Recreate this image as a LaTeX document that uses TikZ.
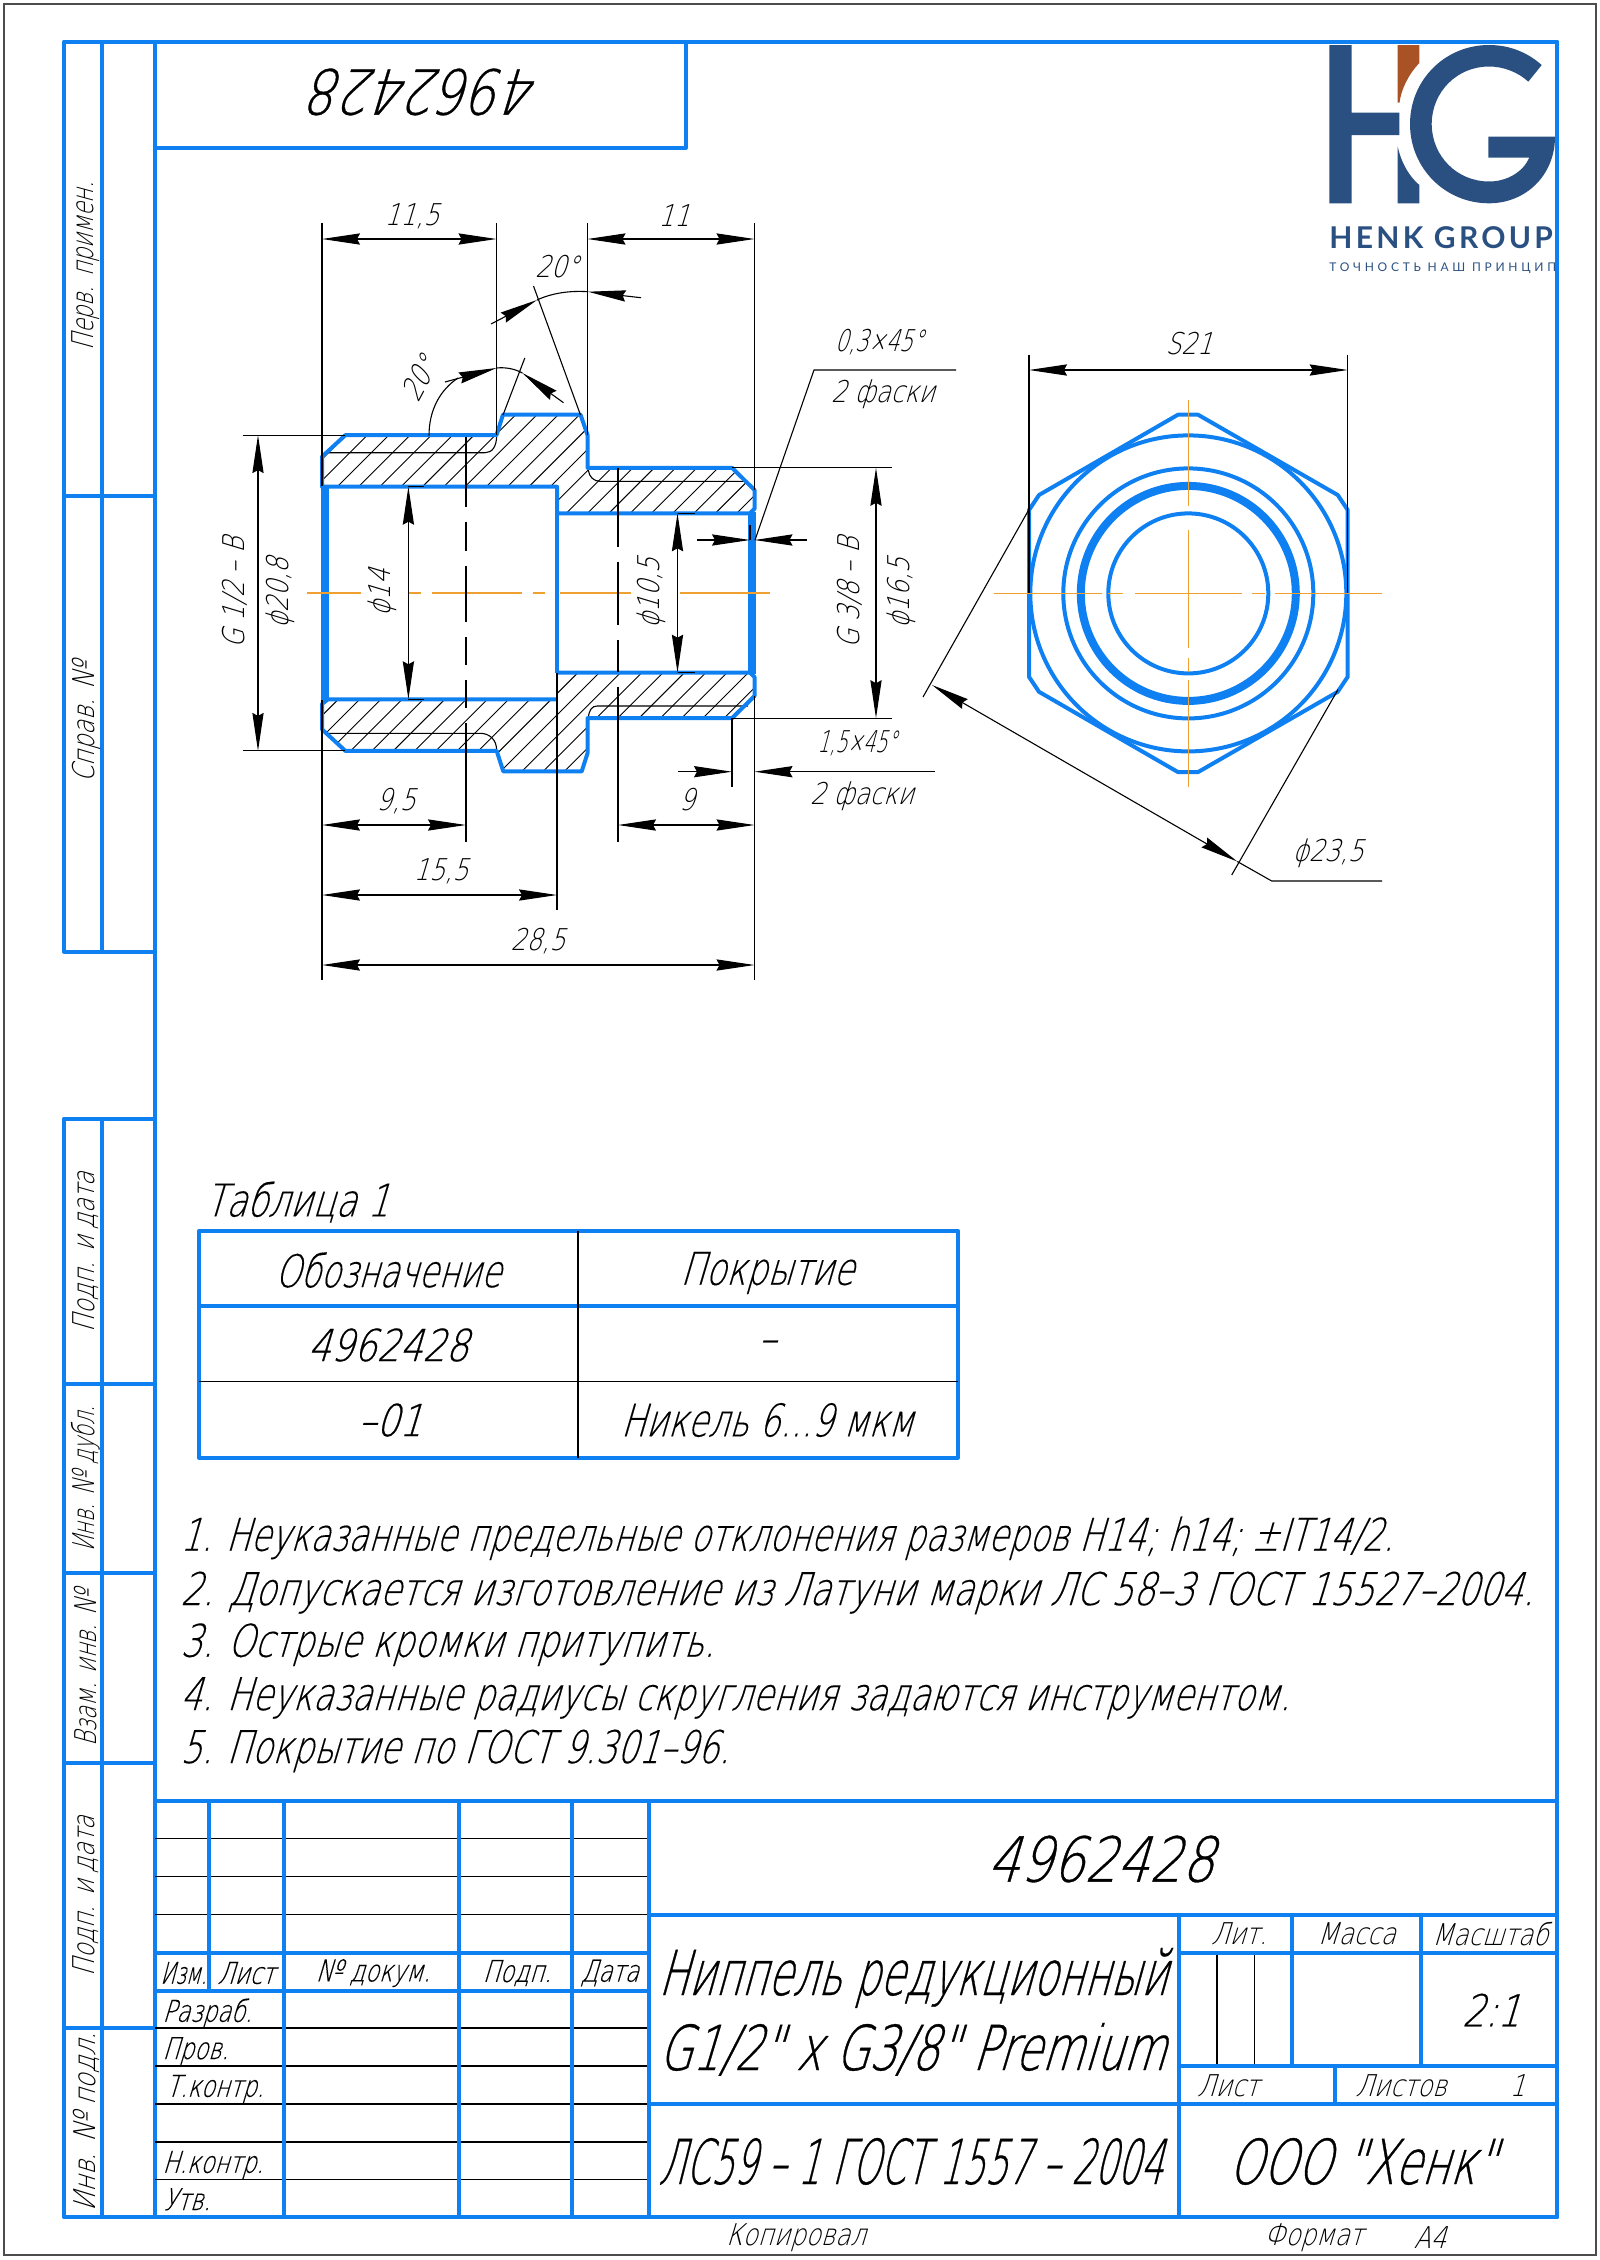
\documentclass[tikz,border=0pt]{standalone}
\usepackage{fontspec}
\usetikzlibrary{arrows.meta}
\newfontfamily\gost[FakeSlant=.3,FakeStretch=.7]{DejaVu Sans ExtraLight}
\newfontfamily\gostw[FakeSlant=.3,FakeStretch=.76,FakeBold=.25]{DejaVu Sans ExtraLight}
\newfontfamily\gostd[FakeSlant=.3,FakeStretch=.82]{DejaVu Sans ExtraLight}
\newfontfamily\gostb[FakeSlant=.3,FakeStretch=.7,FakeBold=.5]{DejaVu Sans ExtraLight}
\newfontfamily\gostc[FakeSlant=.3,FakeStretch=.82,FakeBold=.5]{DejaVu Sans ExtraLight}
\newfontfamily\logofont[LetterSpace=11]{Lato}
\newfontfamily\logosmall[LetterSpace=31]{Lato}
\definecolor{lineblue}{HTML}{0F80F2}
\definecolor{axisorange}{HTML}{F0A030}
\definecolor{logoblue}{HTML}{2A5082}
\definecolor{logobrown}{HTML}{A85226}
\tikzset{
  outline/.style={draw=lineblue,line width=2pt,line join=round},
  wall/.style={draw=lineblue,line width=3.6pt},
  thin/.style={draw=black,line width=.55pt},
  hatch/.style={draw=black,line width=.45pt},
  axis/.style={draw=axisorange,line width=.6pt},
  dimline/.style={draw=black,line width=.55pt,
    >={Stealth[length=19pt,width=5.6pt,inset=1.5pt]}},
  txtS/.style={inner sep=0pt,font=\gostd\fontsize{15pt}{15pt}\selectfont},
  txtN/.style={inner sep=0pt,font=\gost\fontsize{15pt}{15pt}\selectfont},
  txtT/.style={inner sep=0pt,font=\gostw\fontsize{15pt}{15pt}\selectfont},
  txtM/.style={inner sep=0pt,font=\gostw\fontsize{22.5pt}{22.5pt}\selectfont},
  txtD/.style={inner sep=0pt,font=\gostc\fontsize{22pt}{22pt}\selectfont},
  txtL/.style={inner sep=0pt,font=\gostb\fontsize{31pt}{31pt}\selectfont},
  txtK/.style={inner sep=0pt,font=\gostc\fontsize{31pt}{31pt}\selectfont},
}
\begin{document}
\begin{tikzpicture}[x=.5pt,y=-.5pt]
\useasboundingbox (0,0) rectangle (1600,2260);

% logo
\fill[logoblue] (1329.3,45)--(1351.7,45)--(1351.7,112.7)--(1399.3,112.7)--(1399.3,135)--(1351.7,135)--(1351.7,203.3)--(1329.3,203.3)--cycle;
\fill[logobrown] (1397.7,45)--(1419.3,45)--(1419.3,63) .. controls (1408,75) and (1401,90) .. (1399.5,102.7)--(1397.7,102.7)--cycle;
\fill[logoblue] (1397.7,146.7) .. controls (1402,165) and (1410,177) .. (1419.3,185)--(1419.3,203.3)--(1397.7,203.3)--cycle;
\fill[logoblue] (1541.7,65) .. controls (1527,52) and (1509,45) .. (1489,45)
  .. controls (1445,45) and (1410,80) .. (1410,124)
  .. controls (1410,168) and (1445,203.3) .. (1489,203.3)
  .. controls (1526,203.3) and (1555,175) .. (1555,136.7)
  --(1488.3,136.7)--(1488.3,157.7)--(1529.3,157.7)
  .. controls (1523,172) and (1507,181.5) .. (1489,181.5)
  .. controls (1457,181.5) and (1431.7,156) .. (1431.7,124)
  .. controls (1431.7,92) and (1457,66.5) .. (1489,66.5)
  .. controls (1503,66.5) and (1518,72) .. (1528.3,81.7)--cycle;
\node (logoname) [anchor=base west,inner sep=0pt,text=logoblue,font=\logofont\bfseries\fontsize{15pt}{15pt}\selectfont] at (1329,248) {HENK GROUP};
\node (logomotto) [anchor=base west,inner sep=0pt,text=logoblue,font=\logosmall\fontsize{6pt}{6pt}\selectfont] at (1329,271) {ТОЧНОСТЬ НАШ ПРИНЦИП};

% sheet
\draw[draw=black!70,line width=.9pt] (4,4) rectangle (1596,2255);
\draw[outline] (155,41.5) rectangle (1557.3,2217.3);
\draw[outline] (155,148)--(685.5,148)--(685.5,41.5);
\draw[outline] (155,41.5)--(64,41.5)--(64,951.5)--(155,951.5);
\draw[outline] (102,41.5)--(102,951.5);
\draw[outline] (64,496)--(155,496);
\draw[outline] (155,1118.5)--(64,1118.5)--(64,2217.3)--(155,2217.3);
\draw[outline] (102,1118.5)--(102,2217.3);
\foreach \y in {1384,1573,1763,2028}
  \draw[outline] (64,\y)--(155,\y);
\foreach \n/\y/\s/\t in {a/266/.9/Перв. примен.,b/722/.97/Справ. №,c/1252/.95/Подп. и дата,d/1479/.84/Инв. № дубл.,e/1668/.9/Взам. инв. №,f/1896/.95/Подп. и дата,g/2122/1.02/Инв. № подл.}
  \node (side\n) [txtS,rotate=90] at (86,\y) {\scalebox{\s}[1]{\t}};
\node (topnum) [txtK,rotate=180] at (427,92) {4962428};

% section, hatching
\begin{scope}
\clip (322,482)--(322,456.7)--(345.4,435.1)--(496.5,435.1)--(503,414.6)--(580.5,414.6)--(587.5,435)--(587.5,467.8)--(732,467.8)--(754.5,490)--(754.5,508.8)--(750,513.3)--(557,513.3)--(557,486.7)--(328,486.7)--cycle;
\foreach \k in {-2,...,24}
  \draw[hatch] ({951.7+21.3*(\k-8)-530},530)--({951.7+21.3*(\k-8)-400},400);
\end{scope}
\begin{scope}
\clip (557,699.3)--(328,699.3)--(322,704)--(322,729.3)--(345.4,750.9)--(496.7,750.9)--(503.3,771.4)--(581.7,771.4)--(587.5,753.3)--(587.5,718.2)--(732,718.2)--(754.5,696)--(754.5,677)--(750,672.7)--(557,672.7)--cycle;
\foreach \k in {-2,...,24}
  \draw[hatch] ({1186.7+21.3*(\k-8)-790},790)--({1186.7+21.3*(\k-8)-660},660);
\end{scope}

% thread lines
\draw[thin] (325,452.7)--(485,452.7) .. controls (492,452.7) and (496.7,447) .. (496.7,435);
\draw[thin] (588.3,470) .. controls (589,477) and (594,481.3) .. (600,481.3)--(748,481.3);
\draw[thin] (325,733.3)--(480,733.3) .. controls (490,733.3) and (496.7,740) .. (496.7,750.7);
\draw[thin] (588.3,718) .. controls (589,710) and (592,706) .. (597,706)--(748,706);

% section, outline
\draw[outline] (322,486.7)--(322,456.7)--(345.4,435.1)--(496.5,435.1)--(503,414.6)--(580.5,414.6)--(587.5,435)--(587.5,467.8)--(732,467.8)--(754.5,490)--(754.5,508.8)--(750,513.3)--(557,513.3)--(557,486.7)--(328,486.7)--cycle;
\draw[outline] (557,699.3)--(328,699.3)--(322,704)--(322,729.3)--(345.4,750.9)--(496.7,750.9)--(503.3,771.4)--(581.7,771.4)--(587.5,753.3)--(587.5,718.2)--(732,718.2)--(754.5,696)--(754.5,677)--(750,672.7)--(557,672.7);
\draw[wall] (325,486)--(325,700);
\draw[wall] (752,512)--(752,674);
\draw[outline] (557,486.7)--(557,673);

% axis
\foreach \a/\b in {306.6/361.4,408.4/420.6,431.7/521.7,532.7/545,560/630.7,680/769.6}
  \draw[axis] (\a,593)--(\b,593);

% hidden lines with breaks
\foreach \a/\b in {437/507,522/551,566/622,637/665,680/708,723/842}
  \draw[thin] (466,\a)--(466,\b);
\foreach \a/\b in {468/547,562/625,640/672,687/842}
  \draw[thin] (618,\a)--(618,\b);

% extension lines
\draw[thin] (322,223)--(322,486);
\draw[thin] (322,700)--(322,980);
\draw[thin] (754.5,223)--(754.5,490);
\draw[thin] (754.5,696)--(754.5,980);
\draw[thin] (496.5,223)--(496.5,435);
\draw[thin] (587.5,223)--(587.5,435);
\draw[thin] (557,673)--(557,910);
\draw[thin] (242.6,435.1)--(345.4,435.1);
\draw[thin] (242.6,750.9)--(345.4,750.9);
\draw[thin] (732,467.8)--(892,467.8);
\draw[thin] (732,718.2)--(892,718.2);
\draw[thin] (408,486.7)--(424,486.7);
\draw[thin] (408,699.3)--(424,699.3);
\draw[thin] (677.5,513.3)--(695,513.3);
\draw[thin] (677.5,672.7)--(695,672.7);
\draw[thin] (732,718)--(732,787);
\draw[thin] (750,525)--(750,540);

% dimensions
\draw[dimline,<->] (322,239)--(496.5,239);
\draw[dimline,<->] (587.5,239)--(754.5,239);
\draw[dimline,<->] (322,825)--(466,825);
\draw[dimline,<->] (618,825)--(754.5,825);
\draw[dimline,<->] (322,895)--(557,895);
\draw[dimline,<->] (322,965)--(754.5,965);
\draw[dimline,<->] (258,435.1)--(258,750.9);
\draw[dimline,<->] (876,467.8)--(876,718.2);
\draw[dimline,<->] (408.4,486.7)--(408.4,699.3);
\draw[dimline,<->] (677.5,513.3)--(677.5,672.7);
\draw[dimline,->] (697,540)--(750,540);
\draw[dimline,->] (807,540)--(754.5,540);
\draw[dimline,->] (678.4,771.7)--(732,771.7);
\draw[dimline,->] (935,771.7)--(754.5,771.7);
\draw[thin] (755,540)--(814,370)--(956,370);

% angles
\draw[thin] (533.5,286)--(580.5,415);
\draw[thin] (524.8,358)--(503,415);
\draw[dimline,->] (491,324)--(537,300);
\draw[dimline,->] (641,297.7)--(587.8,291.7);
\draw[thin] (537,300) .. controls (552,293) and (570,290.5) .. (587.8,291.7);
\draw[dimline,->] (445,382)--(496.6,368);
\draw[dimline,->] (563.5,402.7)--(522.4,373);
\draw[thin] (496.6,368) .. controls (506,367) and (515,369) .. (522.4,373);
\draw[thin] (429,435.7) .. controls (429,410) and (440,390) .. (458,378);

% end view
\draw[outline] (1178,414.7)--(1198,414.7)--(1337.7,495)--(1347.7,510)--(1347.7,676.8)--(1337.7,691.8)--(1198,772.1)--(1178,772.1)--(1039,691.8)--(1029,676.8)--(1029,510)--(1039,495)--cycle;
\draw[outline] (1188.3,593.4) circle (158);
\draw[outline] (1188.3,593.4) circle (125);
\draw[wall,line width=4pt] (1188.3,593.4) circle (107.5);
\draw[outline] (1188.3,593.4) circle (80);
\foreach \a/\b in {994/1101.7,1108/1123,1135/1241.7,1251.7/1265,1275/1382}
  \draw[axis] (\a,593.4)--(\b,593.4);
\foreach \a/\b in {400/506.4,530/540,540.4/648,658/672,679.6/787}
  \draw[axis] (1188.3,\a)--(1188.3,\b);
\draw[thin] (1029,354.6)--(1029,593);
\draw[thin] (1347.7,354.6)--(1347.7,593);
\draw[dimline,<->] (1029,370)--(1347.7,370);
\draw[thin] (1030,507.6)--(923,697);
\draw[thin] (1338,689.5)--(1231.7,875);
\draw[dimline,<->] (932,685)--(1237.3,861.5);
\draw[thin] (1237.3,861.5)--(1271.7,881)--(1382,881);

% labels
\foreach \n/\x/\y/\t in {ea/412/216/{11,5},eb/674/216/11,ec/396/801/{9,5},ed/687/800/9,ee/441/871/{15,5},ef/538/941/{28,5},eh/883/394/2 фаски,ej/862/796/2 фаски,ek/557/267/20°,el/1189/343.5/S21,em/1328/853.6/{ϕ23,5}}
  \node (dim\n) [txtS] at (\x,\y) {\t};
\node (dimeg) [txtN] at (879,342) {0,3×45°};
\node (dimei) [txtN] at (857,743) {\scalebox{.9}[1]{1,5×45°}};
\foreach \n/\x/\t in {a/235/{G 1/2 – B},b/280/{ϕ20,8},c/382/ϕ14,d/651/{ϕ10,5},e/850/{G 3/8 – B},f/901/{ϕ16,5}}
  \node (rot\n) [txtS,rotate=90] at (\x,593) {\t};
\node (angleb) [txtS,rotate=62] at (419,379) {20°};

% table
\node (tabletitle) [txtM] at (297,1202) {Таблица 1};
\draw[outline] (199,1230.7) rectangle (957.6,1457.7);
\draw[outline] (199,1306)--(957.6,1306);
\draw[thin] (199,1381.7)--(957.6,1381.7);
\draw[thin] (578,1230.7)--(578,1457.7);
\foreach \n/\x/\y/\s/\t in {a/388/1270/.95/Обозначение,b/767/1273/.98/Покрытие,f/767/1420/.97/{Никель 6...9 мкм}}
  \node (cell\n) [txtM] at (\x,\y) {\scalebox{\s}[1]{\t}};
\foreach \n/\x/\y/\t in {c/388/1345/4962428,d/767/1347/–,e/390/1420/–01}
  \node (cell\n) [txtD] at (\x,\y) {\t};

% notes
\foreach \n/\y/\s/\t in {a/1550.7/.963/{1. Неуказанные предельные отклонения размеров H14; h14; ±IT14/2.},b/1605/1.01/{2. Допускается изготовление из Латуни марки ЛС 58–3 ГОСТ 15527–2004.},c/1656.7/1/{3. Острые кромки притупить.},d/1710/.983/{4. Неуказанные радиусы скругления задаются инструментом.},e/1763/.98/{5. Покрытие по ГОСТ 9.301–96.}}
  \node (note\n) [txtM,anchor=base west] at (180,\y) {\scalebox{\s}[1]{\t}};

% title block
\foreach \y in {1838.7,1876.7,1914.7,2028,2066,2104,2142,2179.7}
  \draw[thin] (155,\y)--(648.6,\y);
\draw[thin] (1217,1952.7)--(1217,2066);
\draw[thin] (1254.8,1952.7)--(1254.8,2066);
\foreach \y in {1800.7,1952.7,1990.7}
  \draw[outline] (155,\y)--(648.6,\y);
\draw[outline] (648.6,1800.7)--(1557.3,1800.7);
\draw[outline] (648.6,1915)--(1557.3,1915);
\draw[outline] (648.6,2104)--(1557.3,2104);
\draw[outline] (1179,1952.7)--(1557.3,1952.7);
\draw[outline] (1179,2066)--(1557.3,2066);
\draw[outline] (208.6,1800.7)--(208.6,1990.7);
\foreach \x in {284.3,458.6,572,648.6}
  \draw[outline] (\x,1800.7)--(\x,2217.3);
\draw[outline] (1179,1915)--(1179,2217.3);
\draw[outline] (1292,1915)--(1292,2066);
\draw[outline] (1420.8,1915)--(1420.8,2066);
\draw[outline] (1335,2066)--(1335,2104);
\node (heada) [txtT] at (183.6,1973) {\scalebox{.86}[1]{Изм.}};
\foreach \n/\x/\t in {b/246/Лист,c/373/№ докум.,d/517/Подп.,e/609.6/Дата}
  \node (head\n) [txtT] at (\x,1973) {\t};
\foreach \n/\x/\y/\t in {a/162/2021.7/Разраб.,b/162/2059/Пров.,c/165.7/2096.7/Т.контр.,d/162/2172.7/Н.контр.,e/163/2210/Утв.}
  \node (role\n) [txtT,anchor=base west] at (\x,\y) {\t};
\node (partnum) [txtK] at (1100.5,1859) {4962428};
\node (namea) [txtL,anchor=base west] at (658,1995) {\scalebox{.925}[1]{Ниппель редукционный}};
\node (nameb) [txtL,anchor=base west] at (658,2070) {G1/2" x G3/8" Premium};
\node (material) [txtL,anchor=base west] at (658,2184) {\scalebox{.83}[1]{ЛС59 – 1 ГОСТ 1557 – 2004}};
\node (company) [txtL,anchor=base west] at (1228,2184) {ООО "Хенк"};
\foreach \n/\x/\y/\t in {a/1239/1934/Лит.,b/1356.5/1934/Масса,c/1490/1934/Масштаб,d/1228/2086/Лист,e/1401/2086/Листов,f/1517.5/2086/1,g/796/2238/Копировал,h/1313.6/2238/Формат,i/1430/2238/А4}
  \node (box\n) [txtS] at (\x,\y) {\t};
\node (scaleval) [txtD] at (1491,2010) {2:1};
\end{tikzpicture}
\end{document}
